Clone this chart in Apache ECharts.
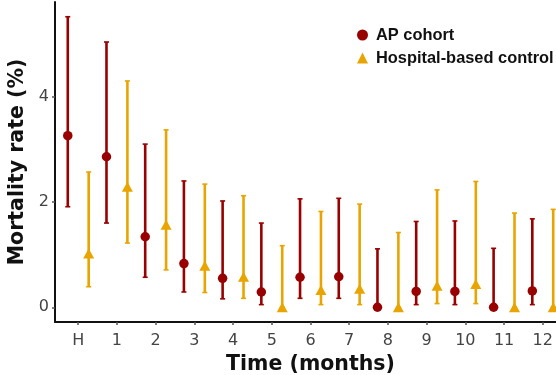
<!DOCTYPE html>
<html>
<head>
<meta charset="utf-8">
<script src="https://cdn.jsdelivr.net/npm/echarts@6/dist/echarts.min.js"></script>
<style>html,body{margin:0;padding:0;background:#fff}#c{width:556px;height:375px}</style>
</head>
<body>
<div id="c"></div>
<script>
var categories = ['H','1','2','3','4','5','6','7','8','9','10','11','12'];
var apMean  = [3.26, 2.86, 1.34, 0.83, 0.55, 0.29, 0.57, 0.58, 0.00, 0.30, 0.30, 0.00, 0.31];
var apLow   = [1.91, 1.60, 0.57, 0.29, 0.16, 0.05, 0.17, 0.17, 0.00, 0.05, 0.05, 0.00, 0.05];
var apHigh  = [5.52, 5.04, 3.10, 2.40, 2.02, 1.60, 2.06, 2.07, 1.11, 1.63, 1.64, 1.12, 1.68];
var ctlMean = [1.02, 2.29, 1.57, 0.79, 0.58, 0.00, 0.33, 0.35, 0.00, 0.41, 0.44, 0.00, 0.00];
var ctlLow  = [0.39, 1.22, 0.71, 0.28, 0.17, 0.00, 0.05, 0.05, 0.00, 0.07, 0.07, 0.00, 0.00];
var ctlHigh = [2.57, 4.30, 3.37, 2.34, 2.12, 1.17, 1.82, 1.96, 1.42, 2.23, 2.39, 1.79, 1.86];
var yTicks = [0, 2, 4];
var seriesNames = ['AP cohort', 'Hospital-based control'];

var RED = '#990000', ORANGE = '#E9A400';
var DODGE = 0.27;
var xIdx = categories.map(function(_, i){ return i; });

function errData(mean, lo, hi, off){
  return mean.map(function(m, i){ return [i + off, lo[i], hi[i]]; });
}
function ptData(mean, off){
  return mean.map(function(m, i){ return [i + off, m]; });
}
function errRender(color){
  return function(params, api){
    var x = api.value(0);
    var p1 = api.coord([x, api.value(2)]);
    var p2 = api.coord([x, api.value(1)]);
    var cw = 2.5;
    var st = {stroke: color, lineWidth: 2.6};
    return {type: 'group', children: [
      {type: 'line', shape: {x1: p1[0], y1: p1[1], x2: p2[0], y2: p2[1]}, style: st},
      {type: 'line', shape: {x1: p1[0]-cw, y1: p1[1], x2: p1[0]+cw, y2: p1[1]}, style: {stroke: color, lineWidth: 1.6}},
      {type: 'line', shape: {x1: p2[0]-cw, y1: p2[1], x2: p2[0]+cw, y2: p2[1]}, style: {stroke: color, lineWidth: 1.6}}
    ]};
  };
}

var chart = echarts.init(document.getElementById('c'), null, {renderer: 'canvas'});
chart.setOption({
  animation: false,
  backgroundColor: '#fff',
  grid: {left: 55, right: -10, top: 2, bottom: 53, containLabel: false, outerBoundsMode: 'none'},
  legend: {
    orient: 'vertical', left: 352, top: 22, itemGap: 7,
    itemWidth: 11, itemHeight: 11,
    textStyle: {fontFamily: 'Liberation Sans, Arial, sans-serif', fontWeight: 'bold', fontSize: 16.4, color: '#111', padding: [0,0,0,3]},
    data: [{name: seriesNames[0], icon: 'circle'}, {name: seriesNames[1], icon: 'triangle'}]
  },
  xAxis: {
    type: 'value', min: -0.6, max: 12.6,
    name: 'Time (months)', nameLocation: 'middle', nameGap: 28,
    nameTextStyle: {fontFamily: 'DejaVu Sans', fontWeight: 'bold', fontSize: 20.5, color: '#111'},
    axisLine: {show: true, onZero: false, lineStyle: {color: '#111', width: 2}},
    axisTick: {show: true, customValues: xIdx, length: 3, lineStyle: {color: '#555', width: 1.5}},
    axisLabel: {customValues: xIdx, margin: 11, fontFamily: 'DejaVu Sans', fontSize: 16, color: '#444',
      formatter: function(v){ return categories[Math.round(v)]; }},
    splitLine: {show: false}
  },
  yAxis: {
    type: 'value', min: -0.28, max: 5.8,
    name: 'Mortality rate (%)', nameLocation: 'middle', nameGap: 27,
    nameTextStyle: {fontFamily: 'DejaVu Sans', fontWeight: 'bold', fontSize: 20.5, color: '#111'},
    axisLine: {show: true, onZero: false, lineStyle: {color: '#111', width: 2}},
    axisTick: {show: true, customValues: yTicks, length: 3, lineStyle: {color: '#555', width: 1.5}},
    axisLabel: {customValues: yTicks, margin: 6, fontFamily: 'DejaVu Sans', fontSize: 16, color: '#444'},
    splitLine: {show: false}
  },
  series: [
    {type: 'custom', name: seriesNames[0], renderItem: errRender(RED), data: errData(apMean, apLow, apHigh, -DODGE), itemStyle: {color: RED}, encode: {x: 0, y: [1, 2]}, z: 2},
    {type: 'custom', name: seriesNames[1], renderItem: errRender(ORANGE), data: errData(ctlMean, ctlLow, ctlHigh, DODGE), itemStyle: {color: ORANGE}, encode: {x: 0, y: [1, 2]}, z: 2},
    {type: 'scatter', name: seriesNames[0], symbol: 'circle', symbolSize: 9.5, data: ptData(apMean, -DODGE), itemStyle: {color: RED, opacity: 1}, z: 3},
    {type: 'scatter', name: seriesNames[1], symbol: 'triangle', symbolSize: [11, 10], data: ptData(ctlMean, DODGE), itemStyle: {color: ORANGE, opacity: 1}, z: 3}
  ]
});
</script>
</body>
</html>
